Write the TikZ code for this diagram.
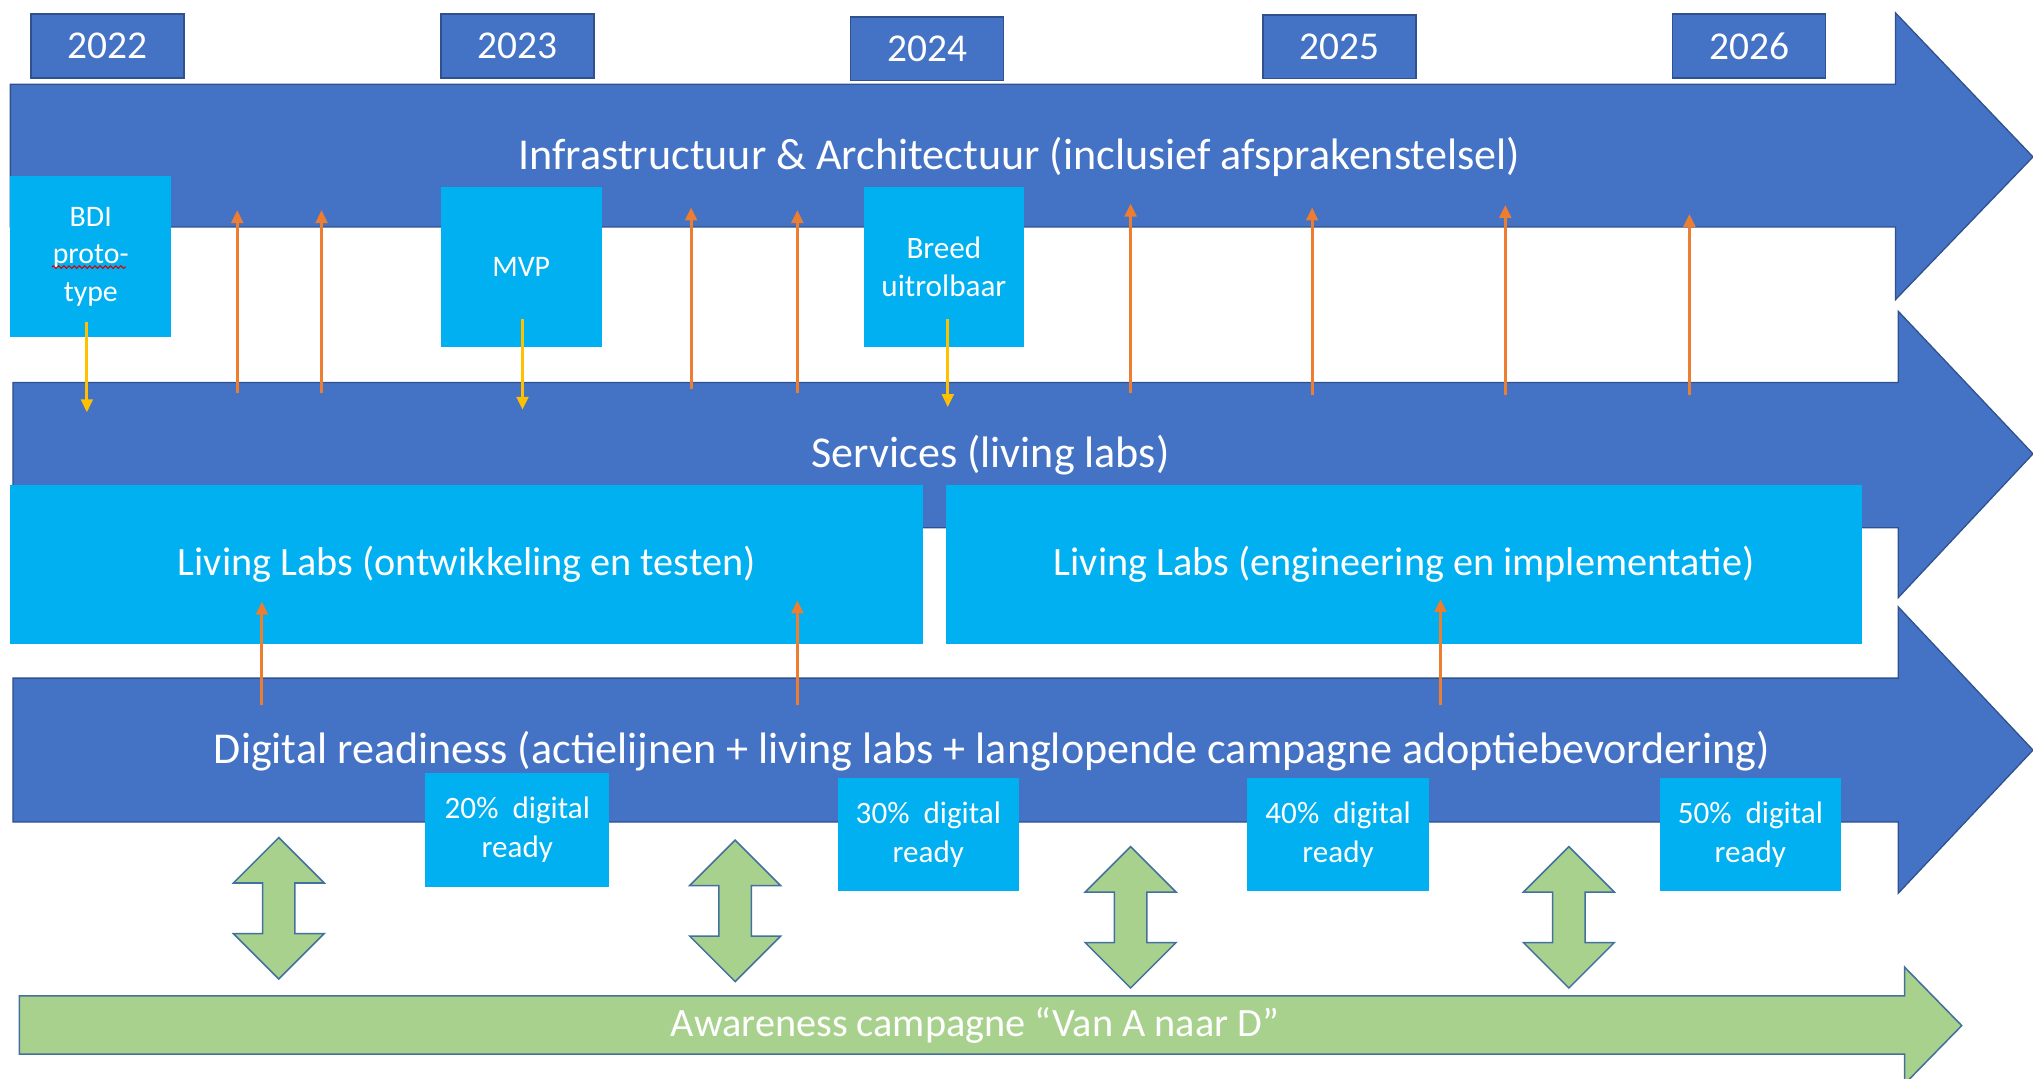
\documentclass[tikz,border=0pt]{standalone}
\usepackage{fontspec}
\setmainfont{Carlito}
\usetikzlibrary{arrows.meta,decorations.pathmorphing}
\definecolor{bblue}{HTML}{4472C4}
\definecolor{bborder}{HTML}{2F528F}
\definecolor{cyanb}{HTML}{00B0F0}
\definecolor{gfill}{HTML}{A9D18E}
\definecolor{gborder}{HTML}{41719C}
\definecolor{oarr}{HTML}{ED7D31}
\definecolor{yarr}{HTML}{FFC000}
\tikzset{
  bigarrow/.style={fill=bblue,draw=bborder,line width=0.5pt},
  greenshape/.style={fill=gfill,draw=gborder,line width=0.6pt},
  yearbox/.style={fill=bblue,draw=bborder,line width=0.6pt,text=white,minimum width=59pt,minimum height=24.5pt,inner sep=0pt,font=\fontsize{15.2}{18}\selectfont},
  cbox/.style={fill=cyanb,text=white,inner sep=0pt,align=center,font=\fontsize{11.5}{14.5}\selectfont},
  bigtext/.style={text=white,inner sep=0pt,font=\fontsize{17}{20}\selectfont},
  uparrow/.style={draw=oarr,line width=1.1pt,-{Triangle[length=5pt,width=4.5pt]}},
  downarrow/.style={draw=yarr,line width=1.1pt,-{Triangle[length=5pt,width=4.5pt]}},
}
\begin{document}
\begin{tikzpicture}[x=0.5pt,y=-0.5pt]
\useasboundingbox (0,0) rectangle (1568,832);
\clip (0,0) rectangle (1568,832);

% year boxes
\node[yearbox] (y2022) at (83,35.5) {2022};
\node[yearbox] (y2023) at (399,35.5) {2023};
\node[yearbox] (y2024) at (715,37.5) {2024};
\node[yearbox] (y2025) at (1033,36) {2025};
\node[yearbox] (y2026) at (1349,35.5) {2026};

% big blue arrows
\path[bigarrow] (8,65) -- (1462,65) -- (1462,10) -- (1568,121) -- (1462,231) -- (1462,175) -- (8,175) -- cycle;
\path[bigarrow] (10,295) -- (1464,295) -- (1464,240) -- (1568,350) -- (1464,461) -- (1464,407) -- (10,407) -- cycle;
\path[bigarrow] (10,523) -- (1464,523) -- (1464,468) -- (1568,578.5) -- (1464,689) -- (1464,634) -- (10,634) -- cycle;

% green arrow
\path[greenshape] (15,768) -- (1469,768) -- (1469,746) -- (1513,791) -- (1469,836) -- (1469,813) -- (15,813) -- cycle;

% green double arrows
\foreach \cx/\ty in {215/646,567/648,872/653,1210/653}{
  \path[greenshape] (\cx,\ty) -- ++(35,35) -- ++(-22.5,0) -- ++(0,39) -- ++(22.5,0) -- ++(-35,35) -- ++(-35,-35) -- ++(22.5,0) -- ++(0,-39) -- ++(-22.5,0) -- cycle;
}

% arrow texts
\node[bigtext] (infra) at (786,121) {Infrastructuur \& Architectuur (inclusief afsprakenstelsel)};
\node[bigtext] (services) at (764,351) {Services (living labs)};
\node[bigtext] (digital) at (765,579) {Digital readiness (actielijnen + living labs + langlopende campagne adoptiebevordering)};
\node[bigtext,font=\fontsize{15.5}{18}\selectfont] (aware) at (752,791) {Awareness campagne “Van A naar D”};

% cyan boxes
\node[cbox,minimum width=62pt,minimum height=62pt] (bdi) at (70,198) {BDI\\proto-\\type};
\node[cbox,minimum width=62pt,minimum height=62pt] (mvp) at (402,206) {MVP};
\node[cbox,minimum width=62pt,minimum height=62pt,font=\fontsize{12}{14.5}\selectfont] (breed) at (728,206) {Breed\\uitrolbaar};
\node[cbox,minimum width=352pt,minimum height=61.5pt,font=\fontsize{15.5}{18}\selectfont] (ll1) at (360,435.5) {Living Labs (ontwikkeling en testen)};
\node[cbox,minimum width=353pt,minimum height=61.5pt,font=\fontsize{15.5}{18}\selectfont] (ll2) at (1083,435.5) {Living Labs (engineering en implementatie)};
\node[cbox,minimum width=71pt,minimum height=44pt,font=\fontsize{12}{15}\selectfont] (p20) at (399,640) {20\%~ digital\\ready};
\node[cbox,minimum width=70pt,minimum height=43.5pt,font=\fontsize{12}{15}\selectfont] (p30) at (716,643.5) {30\%~ digital\\ready};
\node[cbox,minimum width=70pt,minimum height=43.5pt,font=\fontsize{12}{15}\selectfont] (p40) at (1032,643.5) {40\%~ digital\\ready};
\node[cbox,minimum width=70pt,minimum height=43.5pt,font=\fontsize{12}{15}\selectfont] (p50) at (1350,643.5) {50\%~ digital\\ready};

% spell-check squiggle
\draw[red!85!black,line width=0.4pt,decorate,decoration={snake,amplitude=0.5pt,segment length=2pt}] (40,206) -- (97,206);

% orange up arrows
\foreach \i/\x/\a/\b in {1/183/303/162,2/248/303/162,3/533/300/160,4/615/303/162,5/872/303/157,6/1012/305/160,7/1161/305/158,8/1303/305/165,9/202/544/464,10/615/544/463,11/1111/544/462}{
  \coordinate (oa\i) at (\x,\a);
  \coordinate (ob\i) at (\x,\b);
  \draw[uparrow] (oa\i) -- (ob\i);
}
% yellow down arrows
\foreach \i/\x/\a/\b in {1/67/248/318,2/403/246/316,3/731/246/314}{
  \coordinate (ya\i) at (\x,\a);
  \coordinate (yb\i) at (\x,\b);
  \draw[downarrow] (ya\i) -- (yb\i);
}
\end{tikzpicture}
\end{document}
